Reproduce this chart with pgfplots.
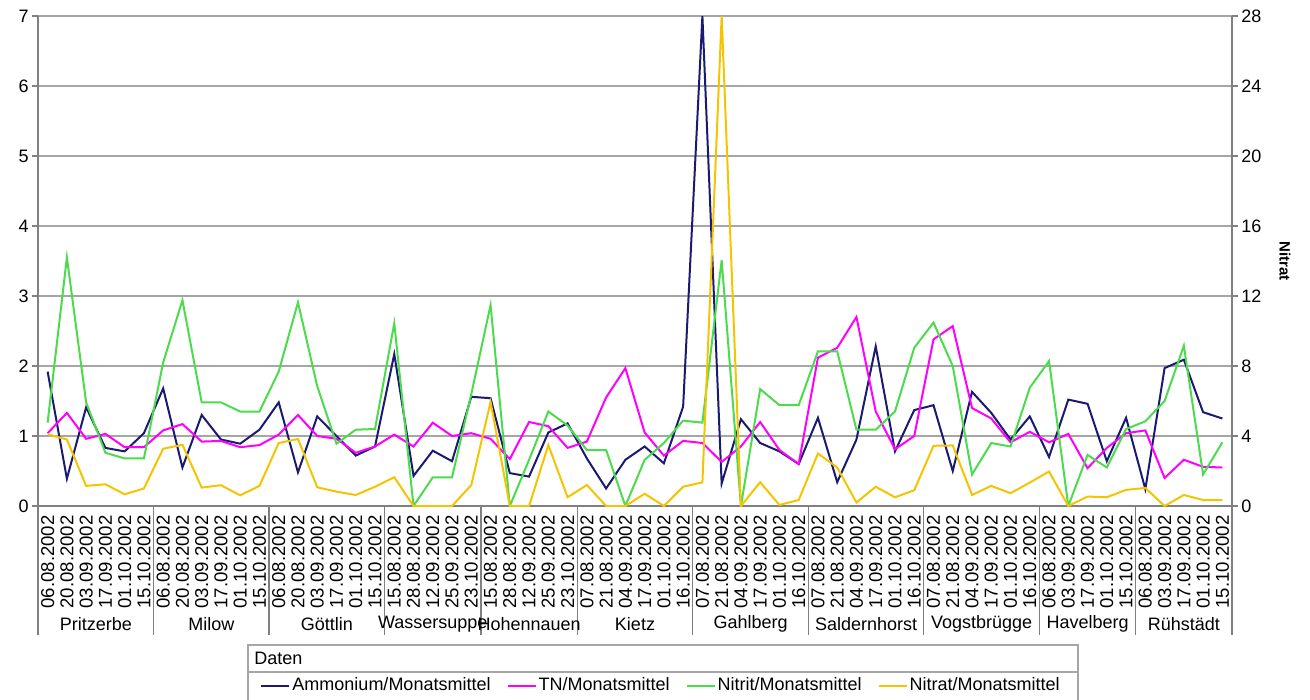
\documentclass[border=0pt]{standalone}
\usepackage{fontspec}
\setmainfont{Liberation Sans}
\usepackage{pgfplots}
\usepackage{pgfplotstable}
\pgfplotsset{compat=1.18}
\definecolor{amm}{HTML}{1A1A70}
\definecolor{tn}{HTML}{FF00FF}
\definecolor{nit}{HTML}{4CDB4C}
\definecolor{nat}{HTML}{F5C400}
\definecolor{gridc}{HTML}{A6A6A6}
\definecolor{axc}{HTML}{808080}

\pgfplotstableread{
i amm tn nit nat
0 1.92 1.04 1.19 4.10
1 0.39 1.33 3.55 3.80
2 1.41 0.96 1.48 1.15
3 0.83 1.03 0.76 1.24
4 0.78 0.84 0.68 0.67
5 1.04 0.84 0.68 1.00
6 1.68 1.08 2.05 3.27
7 0.55 1.17 2.94 3.50
8 1.30 0.92 1.48 1.05
9 0.95 0.93 1.48 1.19
10 0.89 0.84 1.35 0.61
11 1.09 0.87 1.35 1.15
12 1.48 1.02 1.92 3.60
13 0.48 1.30 2.91 3.83
14 1.28 1.00 1.71 1.07
15 1.00 0.96 0.89 0.82
16 0.72 0.76 1.09 0.63
17 0.85 0.85 1.10 1.10
18 2.17 1.02 2.61 1.65
19 0.43 0.85 0.00 0.00
20 0.79 1.19 0.41 0.00
21 0.64 1.00 0.41 0.00
22 1.56 1.04 1.60 1.20
23 1.54 0.96 2.87 5.95
24 0.47 0.67 0.00 0.00
25 0.42 1.20 0.66 0.00
26 1.05 1.14 1.35 3.48
27 1.18 0.83 1.15 0.50
28 0.68 0.92 0.80 1.20
29 0.25 1.55 0.80 0.00
30 0.66 1.97 0.00 0.00
31 0.85 1.05 0.66 0.70
32 0.61 0.72 0.90 0.00
33 1.42 0.93 1.22 1.10
34 7.00 0.90 1.19 1.35
35 0.32 0.63 3.51 28.0
36 1.24 0.85 0.00 0.00
37 0.90 1.20 1.67 1.36
38 0.78 0.80 1.44 0.06
39 0.60 0.60 1.44 0.34
40 1.26 2.12 2.21 3.00
41 0.34 2.26 2.21 2.20
42 0.95 2.70 1.09 0.20
43 2.28 1.35 1.09 1.10
44 0.78 0.81 1.35 0.50
45 1.37 1.00 2.26 0.90
46 1.44 2.38 2.62 3.44
47 0.50 2.57 2.00 3.46
48 1.63 1.40 0.45 0.63
49 1.33 1.25 0.90 1.15
50 0.95 0.91 0.85 0.73
51 1.28 1.06 1.69 1.34
52 0.70 0.91 2.07 1.97
53 1.52 1.03 0.00 0.00
54 1.46 0.54 0.73 0.54
55 0.64 0.83 0.55 0.50
56 1.26 1.04 1.10 0.92
57 0.24 1.08 1.21 1.03
58 1.97 0.40 1.50 0.00
59 2.09 0.66 2.29 0.63
60 1.34 0.56 0.45 0.34
61 1.25 0.55 0.91 0.34
}\data

\begin{document}
\begin{tikzpicture}
\path[use as bounding box] (-19pt,-97pt) rectangle (636pt,253pt);
\begin{axis}[
  at={(0,0)}, anchor=south west,
  scale only axis, width=597pt, height=245pt,
  xmin=-0.5, xmax=61.5, ymin=0, ymax=7,
  axis x line*=bottom, axis y line*=left,
  axis line style={-, draw=axc, line width=0.8pt},
  clip mode=individual,
  ytick={0,1,...,7},
  ymajorgrids, major grid style={gridc, line width=0.6pt},
  tick align=outside, major tick length=3pt,
  ytick style={draw=axc, line width=0.6pt},
  xtick style={draw=none},
  /pgf/number format/assume math mode=true,
  yticklabel style={font=\fontsize{9}{10}\selectfont, inner sep=1.5pt},
  xtick={0,...,61},
  xticklabels={06.08.2002,20.08.2002,03.09.2002,17.09.2002,01.10.2002,15.10.2002,
    06.08.2002,20.08.2002,03.09.2002,17.09.2002,01.10.2002,15.10.2002,
    06.08.2002,20.08.2002,03.09.2002,17.09.2002,01.10.2002,15.10.2002,
    15.08.2002,28.08.2002,12.09.2002,25.09.2002,23.10.2002,
    15.08.2002,28.08.2002,12.09.2002,25.09.2002,23.10.2002,
    07.08.2002,21.08.2002,04.09.2002,17.09.2002,01.10.2002,16.10.2002,
    07.08.2002,21.08.2002,04.09.2002,17.09.2002,01.10.2002,16.10.2002,
    07.08.2002,21.08.2002,04.09.2002,17.09.2002,01.10.2002,16.10.2002,
    07.08.2002,21.08.2002,04.09.2002,17.09.2002,01.10.2002,16.10.2002,
    06.08.2002,03.09.2002,17.09.2002,01.10.2002,15.10.2002,
    06.08.2002,03.09.2002,17.09.2002,01.10.2002,15.10.2002},
  xticklabel style={rotate=90, anchor=east, font=\fontsize{9.3}{10}\selectfont, inner sep=1.5pt},
]
\addplot[amm, line width=1pt] table[x=i, y=amm] {\data};
\addplot[tn, line width=1pt] table[x=i, y=tn] {\data};
\addplot[nit, line width=1pt] table[x=i, y=nit] {\data};
\pgfplotsinvokeforeach{-0.5,5.5,11.5,17.5,22.5,27.5,33.5,39.5,45.5,51.5,56.5,61.5}{
  \draw[axc, line width=0.6pt] (axis cs:#1,0) -- ++(0pt,-64.5pt);
}
\begin{scope}[every node/.style={font=\fontsize{9}{10}\selectfont, yshift=-59pt}]
\node at (axis cs:2.5,0) {Pritzerbe};
\node at (axis cs:8.5,0) {Milow};
\node at (axis cs:14.5,0) {Göttlin};
\node at (axis cs:20,0) {Wassersuppe};
\node at (axis cs:25,0) {Hohennauen};
\node at (axis cs:30.5,0) {Kietz};
\node at (axis cs:36.5,0) {Gahlberg};
\node at (axis cs:42.5,0) {Saldernhorst};
\node at (axis cs:48.5,0) {Vogstbrügge};
\node at (axis cs:54,0) {Havelberg};
\node at (axis cs:59,0) {Rühstädt};
\end{scope}
\end{axis}
\begin{axis}[
  at={(0,0)}, anchor=south west,
  scale only axis, width=597pt, height=245pt,
  xmin=-0.5, xmax=61.5, ymin=0, ymax=28,
  axis x line=none, axis y line=right,
  axis line style={-, draw=axc, line width=0.8pt},
  ytick={0,4,...,28},
  tick align=outside, major tick length=3pt,
  ytick style={draw=axc, line width=0.6pt},
  /pgf/number format/assume math mode=true,
  yticklabel style={font=\fontsize{9}{10}\selectfont, inner sep=1.5pt},
  every axis y label/.style={at={(rel axis cs:1,0.5)}, xshift=26.5pt, rotate=-90, anchor=center, font=\fontsize{7.5}{9}\selectfont\bfseries},
  ylabel={Nitrat},
  legend image code/.code={\draw[#1, line width=1pt] (0pt,0pt) -- (14pt,0pt);},
  legend style={draw=none, fill=none, at={(0.186,-0.367)}, anchor=west,
    legend columns=4, font=\fontsize{9}{10}\selectfont, inner sep=0pt,
    nodes={inner sep=1pt},
    /tikz/every even column/.append style={column sep=7pt}},
]
\addlegendimage{amm}
\addlegendentry{Ammonium/Monatsmittel}
\addlegendimage{tn}
\addlegendentry{TN/Monatsmittel}
\addlegendimage{nit}
\addlegendentry{Nitrit/Monatsmittel}
\addplot[nat, line width=1pt] table[x=i, y=nat] {\data};
\addlegendentry{Nitrat/Monatsmittel}
\end{axis}
\draw[gridc, line width=0.6pt] (105pt,-69.5pt) rectangle (520pt,-98pt);
\draw[gridc, line width=0.6pt] (105pt,-83pt) -- (520pt,-83pt);
\node[anchor=west, font=\fontsize{9}{10}\selectfont, inner sep=0pt] at (108pt,-76.3pt) {Daten};
\end{tikzpicture}
\end{document}
